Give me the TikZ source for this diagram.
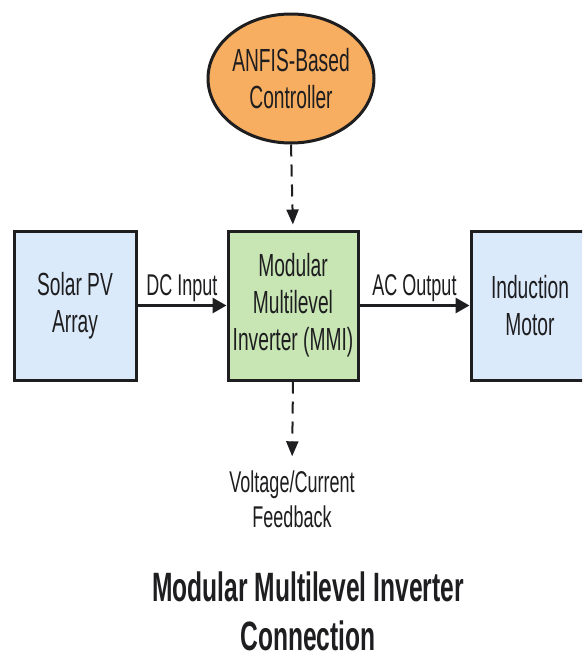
\documentclass[tikz,border=0pt]{standalone}
\usepackage{fontspec}
\setmainfont[FakeStretch=0.6]{Liberation Sans}
\usetikzlibrary{arrows.meta,shapes.geometric}
\definecolor{pvblue}{RGB}{219,234,250}
\definecolor{mmigreen}{RGB}{200,230,180}
\definecolor{ctrlorange}{RGB}{248,174,96}
\definecolor{ink}{RGB}{30,30,32}
\tikzset{
  blockbox/.style={draw=ink, line width=3pt, align=center, text=ink,
    font=\fontsize{32}{37}\selectfont, inner sep=0pt},
  solidarrow/.style={draw=ink, line width=3pt, -{Triangle[length=14pt,width=15pt]}},
  dasharrow/.style={draw=ink, line width=2pt, dash pattern=on 12pt off 8pt,
    -{Triangle[length=15pt,width=12pt]}},
  edgelabel/.style={text=ink, font=\fontsize{30}{34}\selectfont, inner sep=2pt},
  plaintext/.style={text=ink, align=center, font=\fontsize{30}{35}\selectfont, inner sep=0pt},
  titletext/.style={text=ink, align=center, font=\bfseries\fontsize{41}{49}\selectfont, inner sep=0pt}
}
\begin{document}
\begin{tikzpicture}[x=1pt,y=-1pt]
\clip (0,0) rectangle (582,656);
\fill[white] (0,0) rectangle (582,656);
\node[blockbox, fill=pvblue, minimum width=122pt, minimum height=149pt] (pv) at (75,305.5) {Solar PV\\Array};
\node[blockbox, fill=mmigreen, minimum width=130pt, minimum height=149pt] (mmi) at (293,305.5) {Modular\\Multilevel\\Inverter (MMI)};
\node[blockbox, fill=pvblue, minimum width=129pt, minimum height=149pt] (im) at (535.5,305.5) {};
\node[text=ink, align=center, font=\fontsize{32}{37}\selectfont, inner sep=0pt] (imtext) at (530,305.5) {Induction\\Motor};
\node[blockbox, ellipse, fill=ctrlorange, minimum width=148pt, minimum height=129pt] (anfis) at (291,78.5) {ANFIS-Based\\Controller};
\node[plaintext] (fb) at (292,499) {Voltage/Current\\Feedback};
\node[titletext] (title) at (308,611) {Modular Multilevel Inverter\\Connection};
\draw[solidarrow] (pv.east) -- node[edgelabel, above] {DC Input} (mmi.west);
\draw[solidarrow] (mmi.east) -- node[edgelabel, above] {AC Output} (im.west);
\draw[dasharrow, shorten >=5pt] (anfis.south) -- (mmi.north);
\draw[dasharrow, shorten >=14pt] (mmi.south) -- (fb.north);
\end{tikzpicture}
\end{document}
